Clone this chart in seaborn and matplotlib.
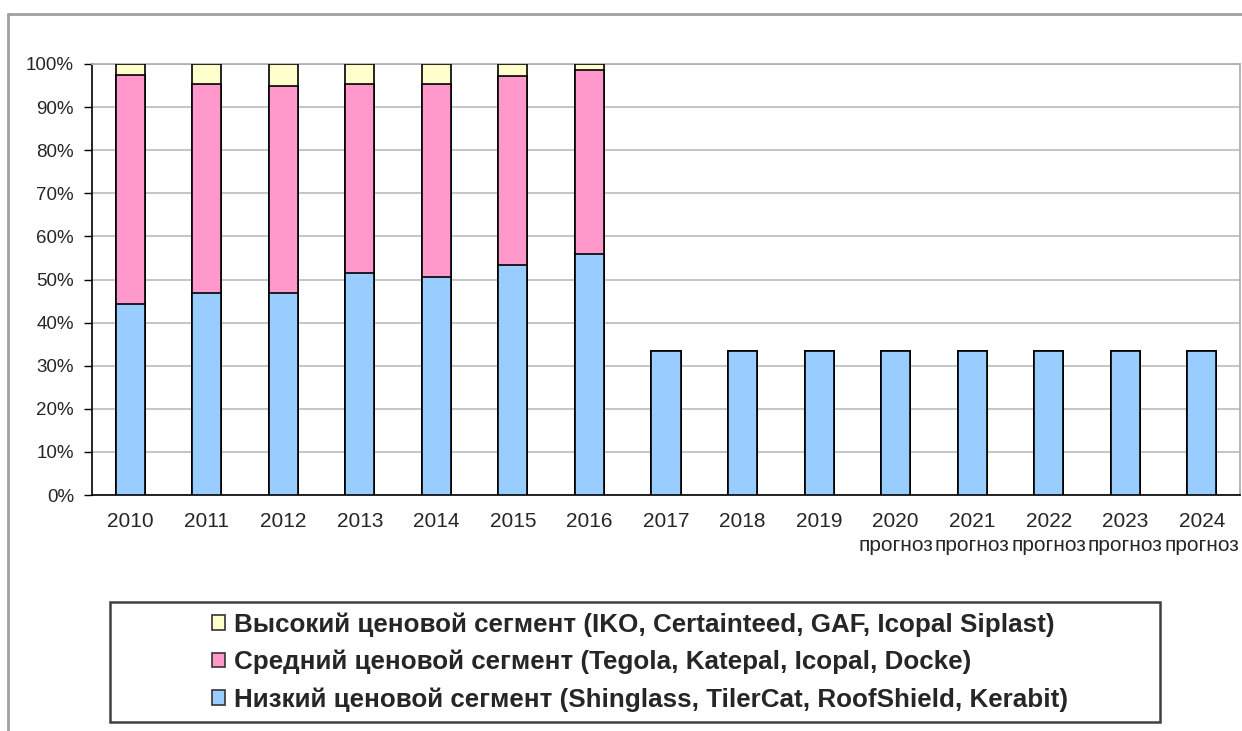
import matplotlib
matplotlib.use("Agg")
import matplotlib.pyplot as plt
from matplotlib.lines import Line2D
from matplotlib.patches import Rectangle
from matplotlib.ticker import PercentFormatter, FixedLocator
import seaborn as sns

# data (shares, %)
years = ["2010", "2011", "2012", "2013", "2014", "2015", "2016",
         "2017", "2018", "2019", "2020", "2021", "2022", "2023", "2024"]
tick_labels = ["2010", "2011", "2012", "2013", "2014", "2015", "2016",
               "2017", "2018", "2019", "2020\nпрогноз", "2021\nпрогноз",
               "2022\nпрогноз", "2023\nпрогноз", "2024\nпрогноз"]
low = [44.3, 46.9, 46.9, 51.5, 50.6, 53.4, 55.9,
       33.3, 33.3, 33.3, 33.3, 33.3, 33.3, 33.3, 33.3]
mid = [53.1, 48.5, 48.0, 43.9, 44.8, 43.8, 42.7,
       0, 0, 0, 0, 0, 0, 0, 0]
high = [2.6, 4.6, 5.1, 4.6, 4.6, 2.8, 1.4,
        0, 0, 0, 0, 0, 0, 0, 0]

series_names = ["Высокий ценовой сегмент (IKO, Certainteed, GAF, Icopal Siplast)",
                "Средний ценовой сегмент (Tegola, Katepal, Icopal, Docke)",
                "Низкий ценовой сегмент (Shinglass, TilerCat, RoofShield, Kerabit)"]
colors = ["#FFFFCC", "#FF99CC", "#99CCFF"]

sns.set_style("white")
plt.rcParams["font.family"] = ["Liberation Sans", "DejaVu Sans"]

fig = plt.figure(figsize=(12.42, 7.31), dpi=100)
ax = fig.add_axes([92 / 1242, 1 - 495 / 731, 1148 / 1242, 431 / 731])

# stacked bars: draw cumulative totals, tallest first
cum_mid = [a + b for a, b in zip(low, mid)]
cum_high = [a + b for a, b in zip(cum_mid, high)]
for vals, col in zip([cum_high, cum_mid, low], colors):
    sns.barplot(x=years, y=vals, color=col, edgecolor="black", linewidth=1.2,
                width=0.38, saturation=1, ax=ax, zorder=3)

ax.set_ylim(0, 100)
ax.set_xlim(-0.5, len(years) - 0.5)
ax.yaxis.set_major_locator(FixedLocator(range(0, 101, 10)))
ax.yaxis.set_major_formatter(PercentFormatter(decimals=0))
ax.grid(axis="y", color="#c0c0c0", linewidth=1.3, zorder=0)
ax.set_axisbelow(True)

ax.set_xticks(range(len(years)))
ax.set_xticklabels(tick_labels, fontsize=15, linespacing=1.35)
ax.set_xticks([i - 0.5 for i in range(len(years) + 1)], minor=True)
ax.tick_params(axis="x", which="major", length=0, pad=12)
ax.tick_params(axis="x", which="minor", length=5, width=1, color="black", direction="out")
ax.tick_params(axis="y", length=6, width=1, color="black", direction="out",
               labelsize=13.5, pad=7, left=True)
ax.set_xlabel("")
ax.set_ylabel("")

for side in ["left", "bottom"]:
    ax.spines[side].set_color("black")
    ax.spines[side].set_linewidth(1.2)
for side in ["top", "right"]:
    ax.spines[side].set_color("#b0b0b0")
    ax.spines[side].set_linewidth(1.3)

# outer chart frame
gray = "#a0a0a0"
fig.add_artist(Line2D([8 / 1242, 8 / 1242], [0, 1 - 14 / 731], color=gray, linewidth=2))
fig.add_artist(Line2D([8 / 1242, 1], [1 - 14 / 731, 1 - 14 / 731], color=gray, linewidth=2))

# legend box
fig.add_artist(Rectangle((110 / 1242, 1 - 722 / 731), 1050 / 1242, 120 / 731,
                         transform=fig.transFigure, facecolor="none",
                         edgecolor="#404040", linewidth=1.8))
handles = [Rectangle((0, 0), 1, 1, facecolor=c, edgecolor="#333333", linewidth=1.2)
           for c in colors]
fig.legend(handles, series_names, loc="center", bbox_to_anchor=(0.515, 1 - 662 / 731),
           frameon=False, prop={"size": 18.7, "weight": "bold"},
           handlelength=0.5, handleheight=0.5, handletextpad=0.35, labelspacing=0.5)

fig.savefig("out.png", dpi=100)
